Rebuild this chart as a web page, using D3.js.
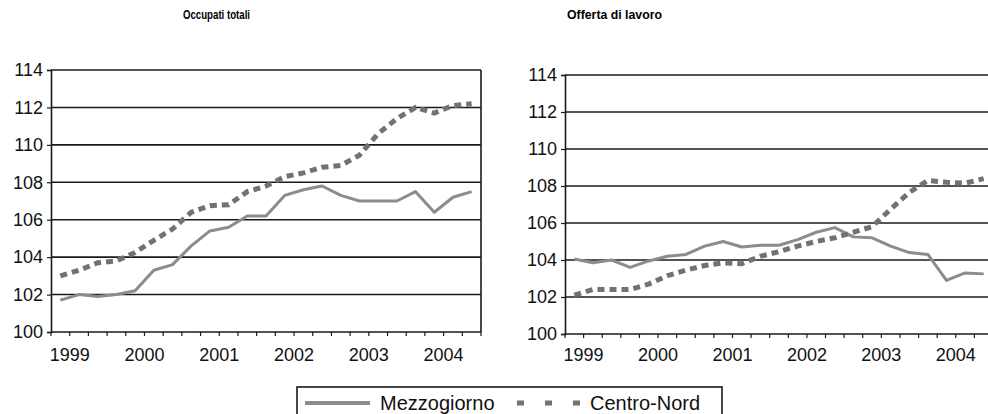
<!DOCTYPE html>
<html lang="it">
<head>
<meta charset="UTF-8">
<title>Occupati totali e offerta di lavoro</title>
<script src="https://d3js.org/d3.v7.min.js"></script>
<style>
  body { margin: 0; background: #fff; }
  svg { display: block; font-family: "Liberation Sans", Arial, sans-serif; }
  .tick text { font-size: 18px; fill: #111; }
  .title { font-weight: bold; font-size: 13px; }
</style>
</head>
<body>
<svg width="988" height="414"></svg>
<script>
// quarters 1999 T1 .. 2004 T3
const years = [1999, 2000, 2001, 2002, 2003, 2004];
const quarters = [];
years.forEach(y => [1, 2, 3, 4].forEach(q => { if (quarters.length < 23) quarters.push(y + "T" + q); }));

const yTicks = [100, 102, 104, 106, 108, 110, 112, 114];

// Occupati totali
const occMezzogiorno = [101.7, 102.0, 101.9, 102.0, 102.2, 103.3, 103.6, 104.6, 105.4, 105.6, 106.2, 106.2,
  107.3, 107.6, 107.8, 107.3, 107.0, 107.0, 107.0, 107.5, 106.4, 107.2, 107.5];
const occCentroNord = [103.0, 103.3, 103.7, 103.8, 104.25, 104.9, 105.5, 106.4, 106.75, 106.8, 107.5, 107.8,
  108.3, 108.5, 108.8, 108.9, 109.45, 110.6, 111.4, 112.0, 111.7, 112.1, 112.2];

// Offerta di lavoro
const offMezzogiorno = [104.05, 103.85, 104.0, 103.6, 103.95, 104.2, 104.3, 104.75, 105.0, 104.7, 104.8, 104.8,
  105.1, 105.5, 105.75, 105.25, 105.2, 104.75, 104.4, 104.3, 102.9, 103.3, 103.25];
const offCentroNord = [102.1, 102.4, 102.4, 102.4, 102.7, 103.15, 103.45, 103.7, 103.85, 103.8, 104.2, 104.45,
  104.75, 105.0, 105.2, 105.5, 105.8, 106.75, 107.65, 108.3, 108.2, 108.15, 108.4];

const panels = [
  { title: "Occupati totali", tx: 183, tw: 67, mezz: occMezzogiorno, cn: occCentroNord, x0: 51, x1: 481, top: 70, bottom: 332, labelX: 43 },
  { title: "Offerta di lavoro", tx: 567, tw: 95, mezz: offMezzogiorno, cn: offCentroNord, x0: 565, x1: 993, top: 75, bottom: 334, labelX: 557 }
];

const svg = d3.select("svg");
svg.append("rect").attr("width", 988).attr("height", 414).attr("fill", "#fff");

const solidColor = "#8c8c8c";
const dashColor = "#727272";

panels.forEach(p => {
  const x = d3.scaleBand().domain(quarters).range([p.x0, p.x1]);
  const y = d3.scaleLinear().domain([100, 114]).range([p.bottom, p.top]);
  const g = svg.append("g");

  // condensed bold title
  g.append("text").attr("class", "title").attr("x", p.tx).attr("y", 19)
    .attr("textLength", p.tw).attr("lengthAdjust", "spacingAndGlyphs")
    .text(p.title);

  // gridlines
  g.selectAll("line.grid").data(yTicks.filter(v => v > 100)).enter().append("line")
    .attr("x1", p.x0).attr("x2", p.x1)
    .attr("y1", d => y(d)).attr("y2", d => y(d))
    .attr("stroke", "#1a1a1a").attr("stroke-width", 1.6);

  // right border
  g.append("line").attr("x1", p.x1).attr("x2", p.x1).attr("y1", p.top).attr("y2", p.bottom)
    .attr("stroke", "#1a1a1a").attr("stroke-width", 1.6);

  // y axis
  const ya = g.append("g").attr("transform", `translate(${p.x0},0)`)
    .call(d3.axisLeft(y).tickValues(yTicks).tickSize(4).tickPadding(p.x0 - p.labelX - 4));
  ya.select(".domain").attr("stroke", "#1a1a1a").attr("stroke-width", 1.6);
  ya.selectAll(".tick line").attr("stroke", "#1a1a1a").attr("stroke-width", 1.2);

  // x axis: ticks at quarter boundaries
  const bounds = quarters.map(q => x(q)).concat([p.x1]);
  g.append("line").attr("x1", p.x0).attr("x2", p.x1).attr("y1", p.bottom).attr("y2", p.bottom)
    .attr("stroke", "#1a1a1a").attr("stroke-width", 1.6);
  g.selectAll("line.xt").data(bounds).enter().append("line")
    .attr("x1", d => d).attr("x2", d => d)
    .attr("y1", p.bottom).attr("y2", p.bottom + 4)
    .attr("stroke", "#1a1a1a").attr("stroke-width", 1.2);
  g.selectAll("text.xl").data(years).enter().append("text")
    .attr("x", d => x(d + "T2"))
    .attr("y", 361)
    .attr("text-anchor", "middle")
    .attr("font-size", 18).attr("fill", "#111")
    .text(d => d);

  const line = d3.line()
    .x((d, i) => x(quarters[i]) + x.bandwidth() / 2)
    .y(d => y(d));

  g.append("path").datum(p.mezz).attr("d", line)
    .attr("fill", "none").attr("stroke", solidColor).attr("stroke-width", 3)
    .attr("stroke-linejoin", "round");
  g.append("path").datum(p.cn).attr("d", line)
    .attr("fill", "none").attr("stroke", dashColor).attr("stroke-width", 5)
    .attr("stroke-dasharray", "7,5");
});

// legend
const lg = svg.append("g");
lg.append("rect").attr("x", 297).attr("y", 387).attr("width", 425).attr("height", 40)
  .attr("fill", "#fff").attr("stroke", "#1a1a1a").attr("stroke-width", 1.6);
lg.append("line").attr("x1", 305).attr("x2", 370).attr("y1", 403).attr("y2", 403)
  .attr("stroke", solidColor).attr("stroke-width", 4);
lg.append("text").attr("x", 380).attr("y", 410).attr("font-size", 20).attr("fill", "#111").text("Mezzogiorno");
lg.append("line").attr("x1", 517).attr("x2", 580).attr("y1", 403).attr("y2", 403)
  .attr("stroke", dashColor).attr("stroke-width", 5).attr("stroke-dasharray", "7,21");
lg.append("text").attr("x", 590).attr("y", 410).attr("font-size", 20).attr("fill", "#111").text("Centro-Nord");
</script>
</body>
</html>
